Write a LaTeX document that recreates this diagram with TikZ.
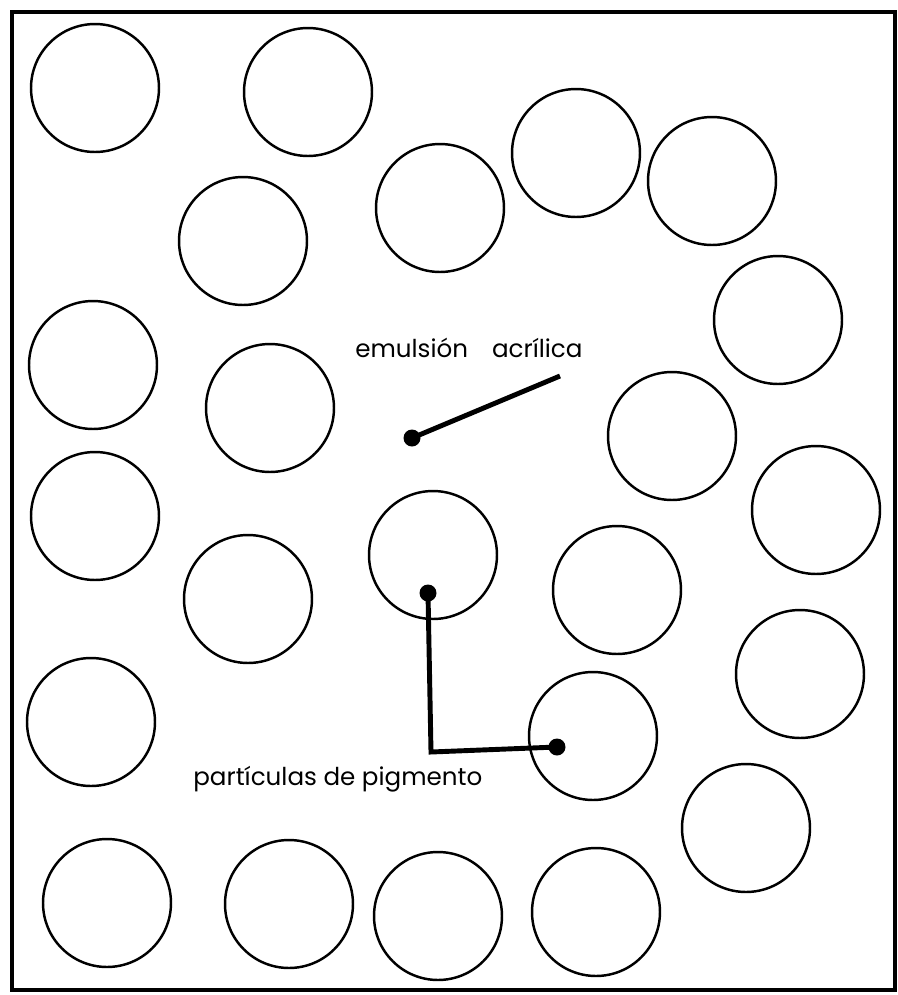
\documentclass[tikz,border=0pt]{standalone}
\usepackage{fontspec}
\setmainfont{Poppins}
\usepackage{tikz}
\usetikzlibrary{positioning,calc}
\tikzstyle{Particle} =[draw,circle,line width=1.4pt,minimum size=2.56cm,inner sep=0pt]
\tikzstyle{Dot} =[fill,circle,minimum size=0.34cm,inner sep=0pt]
\tikzstyle{Pointer} =[line width=2.8pt]
\tikzstyle{Label} =[inner sep=0pt,font=\fontsize{14}{16}\selectfont]
\begin{document}
\begin{tikzpicture}[x=0.02cm,y=-0.02cm]
\useasboundingbox (0,0) rectangle (898,995);
\draw[line width=2.3pt] (12,12) rectangle (895,990);
\node[Particle] (Particle-1) at (95,88) {};
\node[Particle] (Particle-2) at (308,92) {};
\node[Particle] (Particle-3) at (576,153) {};
\node[Particle] (Particle-4) at (712,181) {};
\node[Particle] (Particle-5) at (440,208) {};
\node[Particle] (Particle-6) at (243,241) {};
\node[Particle] (Particle-7) at (778,320) {};
\node[Particle] (Particle-8) at (93,365) {};
\node[Particle] (Particle-9) at (270,408) {};
\node[Particle] (Particle-10) at (672,436) {};
\node[Particle] (Particle-11) at (95,516) {};
\node[Particle] (Particle-12) at (816,510) {};
\node[Particle] (Particle-13) at (433,555) {};
\node[Particle] (Particle-14) at (617,590) {};
\node[Particle] (Particle-15) at (248,599) {};
\node[Particle] (Particle-16) at (800,674) {};
\node[Particle] (Particle-17) at (91,722) {};
\node[Particle] (Particle-18) at (593,736) {};
\node[Particle] (Particle-19) at (746,828) {};
\node[Particle] (Particle-20) at (107,903) {};
\node[Particle] (Particle-21) at (289,904) {};
\node[Particle] (Particle-22) at (438,916) {};
\node[Particle] (Particle-23) at (596,912) {};
\node[Label,anchor=base west] (EmulsionLabel) at (355,357) {emulsión\hspace{0.48cm}acrílica};
\node[Label,anchor=base west] (PigmentLabel) at (193,785) {partículas de pigmento};
\node[Dot] (EmulsionDot) at (412,438) {};
\coordinate (EmulsionEnd) at (560,376);
\node[Dot] (PigmentDotTop) at (428,593) {};
\coordinate (PigmentCorner) at (431,752);
\node[Dot] (PigmentDotRight) at (557,747) {};
\draw[Pointer] (EmulsionDot.center) -- (EmulsionEnd);
\draw[Pointer] (PigmentDotTop.center) -- (PigmentCorner) -- (PigmentDotRight.center);
\end{tikzpicture}
\end{document}
